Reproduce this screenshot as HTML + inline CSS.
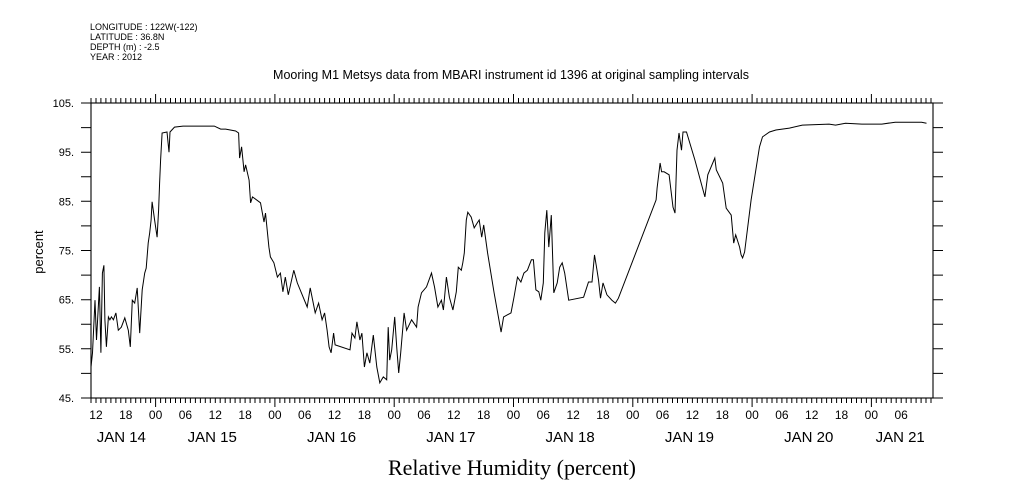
<!DOCTYPE html>
<html><head><meta charset="utf-8"><style>
body{margin:0;background:#fff;}
svg{display:block;font-family:"Liberation Sans",sans-serif;}
</style></head><body>
<svg id="chart" width="1009" height="504" viewBox="0 0 1009 504">
<g font-size="9" fill="#000">
<text x="90" y="30">LONGITUDE : 122W(-122)</text>
<text x="90" y="40">LATITUDE : 36.8N</text>
<text x="90" y="50">DEPTH (m) : -2.5</text>
<text x="90" y="60">YEAR : 2012</text>
</g>
<text x="511" y="79" font-size="12.5" text-anchor="middle">Mooring M1 Metsys data from MBARI instrument id 1396 at original sampling intervals</text>
<text transform="translate(43,252) rotate(-90)" font-size="13" text-anchor="middle">percent</text>
<text x="512" y="475" font-size="22" text-anchor="middle" font-family="Liberation Serif, serif">Relative Humidity (percent)</text>
<g id="axes"></g>
<path id="series" fill="none" stroke="#000" stroke-width="1"/>
</svg>
<script>
const hours=[11.0,11.3,11.8,12.1,12.7,13.0,13.3,13.6,13.8,14.1,14.5,14.8,15.1,15.5,16.0,16.5,17.1,17.8,18.5,18.9,19.3,19.8,20.3,20.8,21.3,21.8,22.1,22.5,22.8,23.1,23.3,23.8,24.3,24.6,24.8,25.0,25.3,26.3,26.7,26.9,27.8,29.5,35.8,37.1,38.1,40.1,40.7,40.9,41.3,41.8,42.1,42.8,43.1,43.5,45.1,45.8,46.1,46.8,47.1,47.8,48.5,49.1,49.6,50.1,50.7,51.8,52.5,54.5,55.1,56.1,56.8,57.5,58.0,58.5,58.9,59.3,59.8,60.1,63.1,63.5,64.1,64.5,65.1,65.5,66.0,66.5,67.1,67.8,68.5,69.1,69.8,70.5,70.8,71.1,71.5,72.1,72.5,72.9,73.3,74.0,74.5,75.5,76.5,76.8,77.5,78.5,79.5,80.1,80.8,81.5,81.9,82.5,83.1,83.8,84.5,84.9,85.5,85.8,86.1,86.5,86.8,87.5,88.1,88.7,89.1,89.6,90.0,90.8,92.1,93.5,94.0,95.5,96.1,96.8,97.5,98.1,98.8,99.6,100.0,100.5,101.1,101.5,102.0,102.3,102.7,103.1,103.6,104.1,104.8,105.3,105.8,106.3,107.1,110.1,111.1,111.8,112.3,112.8,113.1,113.5,114.0,114.8,115.8,116.5,117.1,124.7,124.9,125.5,125.8,126.3,127.3,128.1,128.5,128.9,129.3,129.8,130.1,130.8,132.5,134.5,135.1,136.5,136.8,138.1,138.8,139.8,140.3,140.7,141.5,141.8,142.1,142.5,143.8,145.5,146.1,147.5,148.8,151.5,154.1,159.5,160.8,162.8,166.1,170.1,172.8,178.1,179.1];
const humidity=[51.3,54.2,64.9,56.8,67.6,54.2,70.4,72.0,60.9,55.4,61.5,60.9,61.5,60.9,62.3,58.8,59.4,61.3,58.8,55.4,64.9,64.3,67.4,58.2,67.0,70.4,71.4,76.5,78.6,81.2,84.9,81.2,77.7,83.2,88.7,93.4,98.9,99.1,95.0,99.1,100.1,100.3,100.3,99.7,99.7,99.3,98.9,93.8,96.1,91.0,92.4,89.3,84.7,85.9,84.7,80.8,82.6,75.7,73.7,72.5,69.6,70.4,66.6,69.6,66.0,71.0,68.4,63.5,67.4,62.3,64.3,60.9,62.3,58.8,55.4,54.2,58.2,55.8,54.8,58.2,57.2,60.5,56.8,58.2,51.3,54.2,52.1,57.8,51.3,48.1,49.3,48.7,59.4,52.7,54.8,61.5,55.4,50.1,54.2,62.3,58.8,60.9,59.4,63.5,66.4,67.6,70.4,67.6,63.5,64.9,62.9,69.6,65.5,62.9,66.6,71.6,71.0,72.5,74.5,81.2,82.8,81.8,79.6,80.6,81.2,77.7,80.2,74.5,66.4,58.4,61.5,62.3,65.5,69.6,68.6,70.4,71.0,73.1,73.1,67.0,66.6,64.9,68.4,78.6,83.2,75.7,82.2,66.4,68.4,71.6,72.5,70.4,64.9,65.5,68.6,68.6,74.1,71.0,69.0,65.3,68.4,66.0,64.9,64.3,65.3,85.3,87.7,92.8,91.0,91.0,90.4,83.8,82.6,95.4,98.9,95.4,99.1,99.1,93.4,85.9,90.4,93.8,91.4,88.7,83.6,82.2,76.5,78.2,75.7,74.1,73.5,74.7,85.3,96.1,98.1,99.1,99.5,99.9,100.5,100.7,100.5,100.9,100.7,100.7,101.1,101.1,100.9];
const yTickLabels=["105.","95.","85.","75.","65.","55.","45."];
const yTickValues=[105,95,85,75,65,55,45];
const hourLabels=["12","18","00","06","12","18","00","06","12","18","00","06","12","18","00","06","12","18","00","06","12","18","00","06","12","18","00","06"];
const dayLabels=["JAN 14","JAN 15","JAN 16","JAN 17","JAN 18","JAN 19","JAN 20","JAN 21"];

const X0=91,X1=933,Y0=103,Y1=398,T0=11.0,T1=180.4,VMIN=45,VMAX=105;
function xs(t){return X0+(t-T0)*(X1-X0)/(T1-T0);}
function ys(v){return Y1-(v-VMIN)*(Y1-Y0)/(VMAX-VMIN);}
const NS="http://www.w3.org/2000/svg";
const axes=document.getElementById('axes');
function mk(tag,attrs,parent){const e=document.createElementNS(NS,tag);for(const k in attrs)e.setAttribute(k,attrs[k]);(parent||axes).appendChild(e);return e;}

const frame=mk('rect',{x:X0,y:Y0,width:X1-X0,height:Y1-Y0,fill:'none',stroke:'#000','stroke-width':1.1});



let d="";
for(let h=Math.ceil(T0);h<=T1;h++){
  const x=xs(h).toFixed(1);const major=(h%24===0);const len=major?9:5;
  d+=`M${x} ${Y1}v${len}M${x} ${Y0}v${-len}`;
}
const xt=mk('path',{d:d,stroke:'#000','stroke-width':1,fill:'none'});



let yd="";
for(let v=VMIN;v<=VMAX;v+=5){const y=ys(v).toFixed(1);yd+=`M${X0} ${y}h-10M${X1} ${y}h10`;}
const yt=mk('path',{d:yd,stroke:'#000','stroke-width':1,fill:'none'});



yTickLabels.forEach((s,i)=>{
  const t=mk('text',{x:74,y:ys(yTickValues[i])+4,'font-size':11,'text-anchor':'end'});
  t.textContent=s;
  
  
});
hourLabels.forEach((s,i)=>{
  const h=12+i*6;
  const t=mk('text',{x:xs(h),y:419,'font-size':12,'text-anchor':'middle'});
  t.textContent=s;
  
  
});
dayLabels.forEach((s,i)=>{
  let cx;
  if(i===0) cx=(X0+xs(24))/2-2;
  else if(i===dayLabels.length-1) cx=(xs(24*i)+X1)/2-2;
  else cx=xs(24*i+12)-3;
  const t=mk('text',{x:cx,y:442,'font-size':15,'text-anchor':'middle'});
  t.textContent=s;
  
  
});

let p="";
hours.forEach((h,i)=>{p+=(i?"L":"M")+xs(h).toFixed(1)+" "+ys(humidity[i]).toFixed(1);});
document.getElementById('series').setAttribute('d',p);
</script>
</body></html>
